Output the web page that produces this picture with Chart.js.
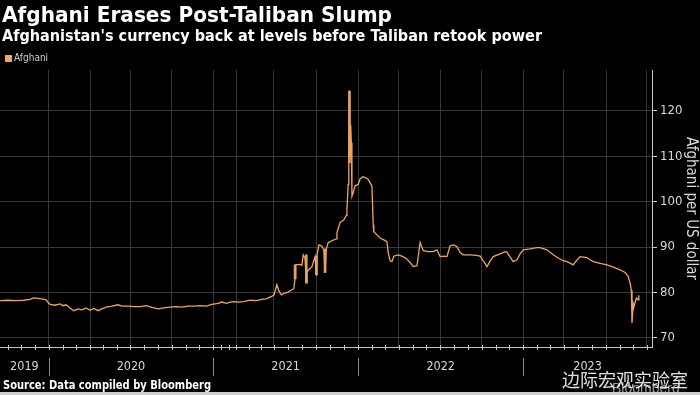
<!DOCTYPE html>
<html><head><meta charset="utf-8">
<script src="https://cdn.jsdelivr.net/npm/chart.js@4/dist/chart.umd.min.js"></script>
<style>
html,body{margin:0;padding:0;background:#000;}
#wrap{position:relative;width:700px;height:395px;background:#000;overflow:hidden;font-family:"DejaVu Sans Condensed","DejaVu Sans",sans-serif;}
canvas{position:absolute;left:0;top:0;}
.t{position:absolute;white-space:nowrap;transform-origin:0 0;color:#fff;font-weight:bold;line-height:1;}
#strip{position:absolute;left:0;bottom:0;width:700px;height:3px;background:#cfcfcf;}
</style></head><body>
<div id="wrap">
<canvas id="c" width="700" height="395"></canvas>
<div class="t fit" data-w="390" style="left:2px;top:5px;font-size:21px;">Afghani Erases Post-Taliban Slump</div>
<div class="t fit" data-w="540" style="left:2px;top:28px;font-size:16px;">Afghanistan's currency back at levels before Taliban retook power</div>
<div style="position:absolute;left:5px;top:55px;width:7px;height:7px;background:#f0a860;"></div>
<div class="t" style="left:14px;top:53px;font-size:10px;font-weight:normal;color:#cfcfcf;">Afghani</div>
<div class="t fit" data-w="208" style="left:3px;top:380px;font-size:11.5px;">Source: Data compiled by Bloomberg</div>
<div class="t" style="left:612px;top:381px;font-size:14px;font-weight:normal;color:#9a9a9a;font-family:'Liberation Sans',sans-serif;">Bloomberg</div>
<div class="t" style="left:562px;top:370px;font-size:18px;font-weight:normal;color:rgba(255,255,255,0.88);font-family:'Noto Sans CJK SC',sans-serif;">边际宏观实验室</div>
<div id="strip"></div>
</div>
<script>
// trading-day index of each observation and its USD/AFN value
const dayIndex = [0,13,26,38,48,54,61,67,74,77,80,88,96,101,106,112,118,125,131,138,144,150,157,163,170,179,189,195,205,214,224,234,243,253,262,272,282,291,301,310,320,330,339,349,355,362,368,374,
381,390,400,410,419,426,432,438,443,446,450,454,461,467,470,472,473,480,483,485,488,490,491,494,499,504,506,507,510,515,518,520,522,525,531,538,539,544,550,554,555,557,558,559,560,561,562,563,565,568,573,576,581,586,589,592,595,597,598,603,608,614,619,621,624,627,630,637,643,650,656,661,667,672,677,685,693,699,704,710,715,720,726,731,736,741,752,762,768,774,779,784,789,800,808,811,816,821,827,832,837,848,859,864,875,885,893,901,907,917,922,928,939,944,949,960,971,981,992,1000,1005,1008,1010,1011,1013,1014,1018,1021,1022];
const afghani = [78.2,78.3,78.2,78.3,78.5,78.8,78.7,78.6,78.4,77.8,77.4,77.2,77.5,77.1,77.3,76.6,76.0,76.4,76.2,76.6,76.1,76.5,76.0,76.4,76.8,77.0,77.3,77.0,77.0,76.9,76.9,77.1,76.7,76.4,76.6,76.8,76.9,76.8,77.0,77.0,77.1,77.0,77.4,77.6,77.9,77.6,77.9,78.0,
77.9,78.0,78.3,78.2,78.5,78.6,79.0,79.4,81.7,80.4,79.5,79.8,80.1,80.6,80.8,83.2,86.1,86.2,86.0,88.3,87.5,82.1,84.5,85.0,85.7,87.9,83.9,88.0,90.5,90.2,89.4,84.4,89.6,91.0,91.4,91.8,93.2,95.4,96.0,97.0,98.3,103.8,108.6,124.4,110.0,117.0,113.0,101.2,102.0,103.5,103.8,105.0,105.5,105.2,104.9,104.2,103.4,94.9,93.4,92.7,92.0,91.6,91.2,88.8,87.0,86.8,88.0,88.3,88.0,87.5,86.6,85.7,85.9,91.0,89.2,89.0,89.0,89.4,87.9,88.0,87.9,90.3,90.5,90.1,88.8,88.3,88.3,88.2,88.0,86.8,85.7,86.9,87.9,88.5,89.0,88.9,87.8,86.8,87.2,88.5,89.4,89.6,89.9,89.9,89.4,88.3,87.6,87.0,86.8,86.1,87.0,87.9,87.7,87.2,86.8,86.4,86.1,85.6,85.0,84.4,83.5,82.0,80.5,73.3,77.5,76.8,78.8,78.4,79.4];
// wide daily high-low ranges
const rangeIdx = [472,490,506,520,559];
const rangeLow = [83.0,82.1,83.9,84.4,108.6];
const rangeHigh = [86.1,88.3,88.0,89.6,124.4];
// axis positions (trading-day index)
const quarterIdx = [78,144,208,275,341,378,438,506,573,638,704,771,837,902,970,1035];
const yearStartIdx = [78,341,573,837];
const yearLabels = ['2019','2020','2021','2022','2023'];
const yTicks = [70,80,90,100,110,120];
const xMax = 1043;

const axisPlugin = {
  id:'axisDeco',
  afterDraw(chart){
    const c = chart.ctx, x = chart.scales.x, a = chart.chartArea;
    c.save();
    c.strokeStyle = '#c8c8c8'; c.lineWidth = 1;
    const months = [];
    const q0 = quarterIdx[0], step0 = (quarterIdx[1]-quarterIdx[0])/3;
    for (let v = q0 - step0; v > 0; v -= step0) months.push(v);
    for (let i=0;i<quarterIdx.length;i++){
      months.push(quarterIdx[i]);
      if (i<quarterIdx.length-1){
        const d=(quarterIdx[i+1]-quarterIdx[i])/3;
        months.push(quarterIdx[i]+d, quarterIdx[i]+2*d);
      }
    }
    c.beginPath();
    months.forEach(v=>{ if(v<0||v>xMax) return; const px=Math.round(x.getPixelForValue(v))+0.5; c.moveTo(px,a.bottom-2); c.lineTo(px,a.bottom+3); });
    c.stroke();
    c.strokeStyle='#8a8a8a';
    c.beginPath();
    yearStartIdx.forEach(v=>{ const px=Math.round(x.getPixelForValue(v))+0.5; c.moveTo(px,a.bottom+11); c.lineTo(px,a.bottom+29); });
    c.stroke();
    c.fillStyle='#d8d8d8'; c.font='12.5px "DejaVu Sans Condensed","DejaVu Sans",sans-serif';
    c.textAlign='center'; c.textBaseline='middle';
    const bounds=[0,...yearStartIdx,xMax];
    yearLabels.forEach((lab,i)=>{ const m=(bounds[i]+bounds[i+1])/2; c.fillText(lab, x.getPixelForValue(m), a.bottom+20); });
    c.restore();
  }
};

new Chart(document.getElementById('c'), {
  type:'line',
  data:{datasets:[
    {label:'Afghani', data: dayIndex.map((d,i)=>({x:d,y:afghani[i]})), borderColor:'#eca55f', borderWidth:1.3, pointRadius:0, tension:0, fill:false, order:1},
    {type:'bar', label:'range', data: rangeIdx.map((d,i)=>({x:d,y:[rangeLow[i],rangeHigh[i]]})), backgroundColor:'#d99e68', barThickness:2, grouped:false, order:2}
  ]},
  options:{
    responsive:false, animation:false, devicePixelRatio:1,
    layout:{padding:{top:70,left:0,right:0,bottom:0}},
    plugins:{legend:{display:false}, tooltip:{enabled:false}},
    scales:{
      x:{type:'linear', min:0, max:xMax, offset:false,
        afterBuildTicks:s=>{s.ticks=quarterIdx.map(v=>({value:v}));},
        ticks:{display:false},
        grid:{color:'#383838', lineWidth:1, drawTicks:false, offset:false},
        border:{color:'#c8c8c8', width:1},
        afterFit:s=>{s.height=48;}},
      y:{position:'right', min:68, max:129,
        afterBuildTicks:s=>{s.ticks=yTicks.map(v=>({value:v}));},
        ticks:{color:'#d8d8d8', font:{size:13, family:'"DejaVu Sans Condensed","DejaVu Sans",sans-serif'}, padding:3},
        grid:{color:'#383838', tickColor:'#c8c8c8', tickLength:5},
        border:{color:'#c8c8c8', width:1},
        title:{display:true, text:'Afghani per US dollar', color:'#d8d8d8', font:{size:15, family:'"DejaVu Sans Condensed","DejaVu Sans",sans-serif'}, padding:{top:0,bottom:3}},
        afterFit:s=>{s.width=48;}}
    }
  },
  plugins:[axisPlugin]
});
document.querySelectorAll('.fit').forEach(el=>{
  const w=el.getBoundingClientRect().width; const tw=+el.dataset.w;
  el.style.transform='scaleX('+(tw/w)+')';
});
</script>
</body></html>
